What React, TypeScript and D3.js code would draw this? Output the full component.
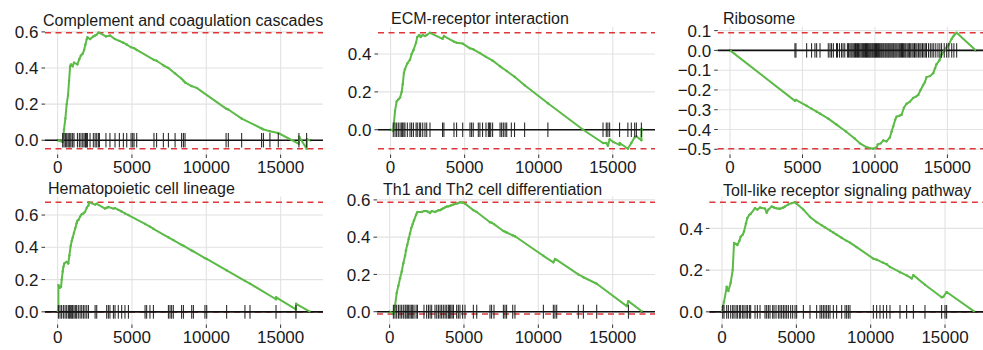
import React from "react";
import * as d3 from "d3";

const TOTAL_GENES = 17000;
const xTickValues = [0, 5000, 10000, 15000];

// Complement and coagulation cascades
const complementCurve: [number, number][] = [
  [0, 0], [340, -0.01], [430, 0.06], [520, 0.12], [610, 0.2], [700, 0.25], [770, 0.33], [840, 0.41],
  [900, 0.42], [1010, 0.41], [1100, 0.43], [1330, 0.42], [1460, 0.45], [1570, 0.47], [1690, 0.48],
  [1780, 0.5], [1870, 0.53], [1960, 0.56], [2000, 0.57], [2180, 0.56], [2400, 0.575], [2520, 0.58],
  [2630, 0.585], [2740, 0.595], [2810, 0.595], [3250, 0.575], [3520, 0.58], [3860, 0.56], [4150, 0.55],
  [4420, 0.54], [4650, 0.53], [4940, 0.515], [5140, 0.51], [5320, 0.5], [6480, 0.445], [6660, 0.44],
  [7110, 0.415], [7450, 0.4], [7900, 0.37], [8340, 0.34], [8460, 0.33], [8570, 0.32], [9000, 0.3],
  [9350, 0.29], [11330, 0.175], [11480, 0.17], [12380, 0.12], [13720, 0.065], [13840, 0.06],
  [14280, 0.05], [14840, 0.04], [16230, -0.02], [16240, 0.02], [16750, -0.047], [16760, 0.005], [17000, 0],
];
const complementHits = [
  340, 430, 520, 610, 700, 770, 830, 900, 1010, 1100, 1330, 1460, 1570, 1690, 1780, 1870, 1910, 1960,
  2000, 2180, 2400, 2520, 2630, 2740, 2810, 3250, 3520, 3860, 4150, 4420, 4650, 4940, 5050, 5140, 5320,
  6480, 6660, 7110, 7450, 7900, 8340, 8460, 8570, 11330, 11480, 12380, 13720, 13840, 14280, 14840,
  16230, 16750,
];

// ECM-receptor interaction
const ecmCurve: [number, number][] = [
  [0, 0], [180, -0.005], [300, 0.1], [410, 0.15], [520, 0.16], [640, 0.17], [750, 0.2], [820, 0.24],
  [900, 0.3], [970, 0.32], [1130, 0.35], [1310, 0.37], [1420, 0.4], [1540, 0.42], [1720, 0.46],
  [1800, 0.49], [1940, 0.5], [2030, 0.49], [2170, 0.5], [2320, 0.495], [2440, 0.5], [2660, 0.512],
  [3510, 0.48], [3600, 0.495], [4280, 0.465], [4460, 0.46], [4870, 0.455], [5360, 0.43], [5580, 0.425],
  [6030, 0.405], [6440, 0.385], [6890, 0.365], [7390, 0.335], [7840, 0.31], [8370, 0.28], [9050, 0.235],
  [10620, 0.14], [13000, 0.0], [14340, -0.07], [14560, -0.07], [14670, -0.085], [14790, -0.05],
  [15050, -0.065], [15460, -0.08], [15470, -0.07], [16020, -0.1], [16250, -0.07], [16480, -0.04],
  [16590, -0.035], [16930, -0.055], [16940, 0.005], [17000, 0],
];
const ecmHits = [
  180, 300, 410, 520, 640, 750, 815, 900, 970, 1130, 1310, 1420, 1540, 1720, 1800, 1940, 2030, 2170,
  2320, 2440, 2660, 3510, 3600, 4280, 4460, 4870, 5360, 5470, 5580, 5920, 6030, 6210, 6440, 6600, 6670,
  6760, 6890, 7390, 7500, 7610, 7730, 7840, 8150, 8370, 9050, 10620, 14340, 14560, 14670, 14790, 15460,
  16020, 16250, 16480, 16590, 16930,
];

// Ribosome
const ribosomeCurve: [number, number][] = [
  [0, 0], [4480, -0.255], [4550, -0.25], [5290, -0.28], [5630, -0.295], [5980, -0.31], [6210, -0.32],
  [6780, -0.345], [7350, -0.375], [8000, -0.41], [8600, -0.445], [8970, -0.47], [9430, -0.49],
  [9880, -0.497], [10120, -0.49], [10200, -0.475], [10400, -0.47], [10580, -0.455], [10800, -0.46],
  [11030, -0.44], [11150, -0.41], [11260, -0.385], [11400, -0.35], [11490, -0.335], [11700, -0.33],
  [11840, -0.325], [12000, -0.29], [12180, -0.27], [12400, -0.26], [12640, -0.24], [12800, -0.235],
  [12990, -0.225], [13150, -0.2], [13330, -0.175], [13450, -0.16], [13560, -0.135], [13800, -0.13],
  [14020, -0.115], [14150, -0.09], [14250, -0.07], [14450, -0.05], [14600, -0.02], [14800, 0.0],
  [14940, 0.015], [15100, 0.03], [15290, 0.058], [15400, 0.07], [15520, 0.082], [15640, 0.089], [16970, 0],
];
const ribosomeHits = [
  4480, 4550, 5290, 5630, 5860, 5980, 6210, 6780, 6900, 7010, 7130, 7350, 7420, 7560, 7700, 7800, 7920,
  8100, 8180, 8270, 8350, 8420, 8500, 8580, 8660, 8720, 8800, 8870, 8950, 9030, 9100, 9160, 9220, 9290,
  9350, 9420, 9480, 9540, 9600, 9660, 9720, 9790, 9850, 9920, 9980, 10040, 10110, 10170, 10240, 10300,
  10360, 10430, 10490, 10560, 10620, 10700, 10760, 10830, 10900, 10960, 11030, 11100, 11170, 11240,
  11300, 11380, 11450, 11520, 11600, 11680, 11750, 11830, 11900, 11980, 12060, 12130, 12220, 12300,
  12380, 12470, 12560, 12640, 12730, 12820, 12900, 13000, 13100, 13180, 13280, 13380, 13470, 13560,
  13700, 13820, 13940, 14060, 14200, 14350, 14480, 14600, 14780, 14950, 15100, 15300, 15450, 15640,
];

// Hematopoietic cell lineage
const hematoCurve: [number, number][] = [
  [0, 0], [50, 0.03], [55, 0.165], [160, 0.15], [230, 0.155], [275, 0.2], [340, 0.25], [390, 0.28],
  [450, 0.3], [610, 0.31], [720, 0.3], [790, 0.35], [880, 0.41], [950, 0.44], [1010, 0.46], [1100, 0.49],
  [1190, 0.52], [1280, 0.55], [1330, 0.565], [1400, 0.57], [1510, 0.59], [1620, 0.605], [1730, 0.61],
  [1840, 0.62], [1960, 0.645], [2070, 0.66], [2120, 0.679], [2520, 0.665], [2630, 0.67], [3190, 0.64],
  [3300, 0.645], [3410, 0.65], [3750, 0.64], [3860, 0.643], [4090, 0.632], [4310, 0.622], [4530, 0.61],
  [4760, 0.6], [5880, 0.545], [6210, 0.528], [6440, 0.515], [7450, 0.462], [7780, 0.445], [8340, 0.415],
  [8460, 0.41], [9020, 0.38], [9130, 0.375], [9910, 0.333], [10030, 0.328], [11370, 0.257], [12600, 0.192],
  [12940, 0.175], [14690, 0.078], [14700, 0.09], [16030, 0.015], [16040, 0.05], [17000, 0],
];
const hematoHits = [
  50, 160, 270, 385, 500, 610, 720, 790, 880, 950, 1010, 1100, 1190, 1280, 1390, 1510, 1620, 1730, 1840,
  1960, 2070, 2520, 2630, 3300, 3410, 3520, 3750, 3860, 4080, 4310, 4530, 4760, 5880, 5990, 6210, 6440,
  7450, 7560, 7670, 7780, 8340, 8460, 9020, 9130, 9910, 10030, 11370, 12600, 12940, 14690, 16030,
];

// Th1 and Th2 cell differentiation
const thCurve: [number, number][] = [
  [0, 0], [250, -0.012], [360, 0.03], [475, 0.1], [590, 0.14], [700, 0.18], [810, 0.215], [920, 0.26],
  [1040, 0.3], [1100, 0.33], [1190, 0.36], [1280, 0.39], [1370, 0.42], [1460, 0.45], [1550, 0.47],
  [1640, 0.49], [1780, 0.52], [1870, 0.535], [2160, 0.535], [2310, 0.54], [2490, 0.54], [2610, 0.535],
  [2720, 0.53], [2830, 0.54], [3050, 0.535], [3170, 0.54], [3280, 0.545], [3390, 0.545], [3500, 0.55],
  [3610, 0.555], [3730, 0.56], [3840, 0.565], [3950, 0.565], [4110, 0.57], [4290, 0.575], [4510, 0.58],
  [4620, 0.583], [4730, 0.587], [4910, 0.585], [5070, 0.58], [5630, 0.545], [5860, 0.535], [6750, 0.48],
  [6860, 0.478], [7020, 0.47], [7650, 0.433], [7760, 0.43], [7870, 0.425], [8280, 0.41], [8430, 0.405],
  [10340, 0.3], [11010, 0.265], [11120, 0.283], [11240, 0.278], [12690, 0.2], [13030, 0.185],
  [13930, 0.15], [15950, 0.03], [16060, 0.057], [17000, 0],
];
const thHits = [
  250, 360, 475, 590, 700, 810, 920, 1040, 1100, 1190, 1280, 1370, 1460, 1550, 1640, 1780, 1870, 2310,
  2490, 2610, 2720, 2830, 3050, 3170, 3280, 3390, 3500, 3610, 3730, 3840, 3950, 4020, 4110, 4200, 4290,
  4510, 4620, 4730, 4910, 5070, 5630, 5860, 6750, 6860, 7020, 7650, 7760, 7870, 8280, 8430, 10340,
  11010, 11120, 11240, 12690, 13030, 13930, 16060,
];

// Toll-like receptor signaling pathway
const tollCurve: [number, number][] = [
  [0, 0], [45, 0.024], [134, 0.048], [314, 0.12], [426, 0.1], [583, 0.14], [717, 0.2], [807, 0.33],
  [941, 0.325], [1031, 0.32], [1166, 0.34], [1255, 0.36], [1390, 0.37], [1479, 0.385], [1614, 0.425],
  [1704, 0.45], [1838, 0.465], [1928, 0.47], [2219, 0.497], [2376, 0.49], [2555, 0.5], [2892, 0.495],
  [3004, 0.475], [3116, 0.49], [3340, 0.505], [3497, 0.5], [3631, 0.497], [3788, 0.495], [3900, 0.494],
  [4125, 0.5], [4237, 0.505], [4461, 0.515], [4685, 0.521], [4909, 0.525], [5021, 0.518], [5470, 0.49],
  [5918, 0.455], [6366, 0.43], [6703, 0.415], [6927, 0.405], [7263, 0.39], [7487, 0.38], [7711, 0.37],
  [8048, 0.355], [8384, 0.34], [8608, 0.332], [9058, 0.31], [10177, 0.255], [10401, 0.25], [10849, 0.235],
  [11074, 0.228], [11298, 0.215], [11970, 0.19], [12419, 0.175], [12757, 0.16], [12869, 0.176],
  [13652, 0.13], [14773, 0.07], [14884, 0.072], [15109, 0.095], [17000, 0],
];
const tollHits = [
  45, 134, 314, 426, 583, 717, 807, 941, 1031, 1166, 1255, 1390, 1479, 1614, 1704, 1838, 1928, 2219,
  2376, 2555, 2892, 3004, 3116, 3228, 3407, 3497, 3631, 3788, 3900, 4012, 4125, 4237, 4349, 4461, 4618,
  4752, 4909, 5021, 5470, 5918, 6366, 6591, 6703, 6815, 6927, 7039, 7151, 7263, 7487, 7711, 8048, 8272,
  8384, 8496, 8608, 10177, 10401, 10625, 10849, 11074, 11298, 11970, 12419, 12869, 13652, 14773, 14997,
  15109,
];

const ticksA = [0, 0.2, 0.4, 0.6];
const ticksB = [0, 0.2, 0.4];
const ticksRibo = [-0.5, -0.4, -0.3, -0.2, -0.1, 0, 0.1];

const panels = [
  { title: "Complement and coagulation cascades", curve: complementCurve, hits: complementHits, yTicks: ticksA },
  { title: "ECM-receptor interaction", curve: ecmCurve, hits: ecmHits, yTicks: ticksB },
  { title: "Ribosome", curve: ribosomeCurve, hits: ribosomeHits, yTicks: ticksRibo },
  { title: "Hematopoietic cell lineage", curve: hematoCurve, hits: hematoHits, yTicks: ticksA },
  { title: "Th1 and Th2 cell differentiation", curve: thCurve, hits: thHits, yTicks: ticksA },
  { title: "Toll-like receptor signaling pathway", curve: tollCurve, hits: tollHits, yTicks: ticksB },
];

// panel boxes (px) and title anchors
const boxes = [
  { left: 45, top: 27, width: 278, height: 127.5, tx: 43, ty: 26 },
  { left: 378, top: 27, width: 277, height: 127.5, tx: 391, ty: 24 },
  { left: 717.7, top: 27, width: 271, height: 127.5, tx: 723, ty: 24 },
  { left: 45, top: 196.5, width: 278, height: 128, tx: 48, ty: 194 },
  { left: 377, top: 196.5, width: 278, height: 128, tx: 383, ty: 195 },
  { left: 709.4, top: 196.5, width: 278, height: 128, tx: 723, ty: 195.5 },
];

const FONT = "'Liberation Sans', Arial, Helvetica, sans-serif";
const GREEN = "#5cbb47";
const RED = "#e0363a";
const GRID = "#e2e2e2";

function Panel({ panel, box }) {
  const { curve, hits, yTicks, title } = panel;
  const esMax = d3.max(curve, (d) => d[1]);
  const esMin = d3.min(curve, (d) => d[1]);
  const diff = (esMax - esMin) / 8;
  const lo = Math.min(esMin, -diff / 2);
  const hi = Math.max(esMax, diff / 2);
  const yPad = (hi - lo) * 0.05;
  const xPad = TOTAL_GENES * 0.05;

  const x = d3.scaleLinear().domain([-xPad, TOTAL_GENES + xPad]).range([box.left, box.left + box.width]);
  const y = d3.scaleLinear().domain([lo - yPad, hi + yPad]).range([box.top + box.height, box.top]);
  const line = d3.line().x((d) => x(d[0])).y((d) => y(d[1]));
  const fmt = d3.format(".1f");
  const x0 = box.left;
  const x1 = box.left + box.width;
  const yb = box.top + box.height;

  return (
    <g>
      {/* grid */}
      {yTicks.map((t) => (
        <line key={"gy" + t} x1={x0} x2={x1} y1={y(t)} y2={y(t)} stroke={GRID} strokeWidth={1.1} />
      ))}
      {xTickValues.map((t) => (
        <line key={"gx" + t} x1={x(t)} x2={x(t)} y1={box.top} y2={yb} stroke={GRID} strokeWidth={1.1} />
      ))}

      {/* green points */}
      {curve.map((d, i) => (
        <circle key={"p" + i} cx={x(d[0])} cy={y(d[1])} r={1.2} fill={GREEN} />
      ))}

      <line x1={x0} x2={x1} y1={y(esMax)} y2={y(esMax)} stroke={RED} strokeWidth={1.6} strokeDasharray="6,4.5" />
      <line x1={x0} x2={x1} y1={y(esMin)} y2={y(esMin)} stroke={RED} strokeWidth={1.6} strokeDasharray="6,4.5" />
      <line x1={x0} x2={x1} y1={y(0)} y2={y(0)} stroke="#111" strokeWidth={1.6} />

      <path d={line(curve)} fill="none" stroke={GREEN} strokeWidth={2} strokeLinejoin="round" />

      {/* rug of pathway genes */}
      {hits.map((h, i) => (
        <line key={"h" + i} x1={x(h)} x2={x(h)} y1={y(-diff / 2)} y2={y(diff / 2)} stroke="#1a1a1a" strokeWidth={1} />
      ))}

      {/* y axis */}
      {yTicks.map((t) => (
        <g key={"ty" + t}>
          <line x1={x0 - 3.5} x2={x0} y1={y(t)} y2={y(t)} stroke="#333" strokeWidth={1} />
          <text x={x0 - 6.5} y={y(t)} dy="0.36em" textAnchor="end" fontSize={17} fill="#1a1a1a" fontFamily={FONT}>
            {fmt(t)}
          </text>
        </g>
      ))}

      {/* x axis */}
      {xTickValues.map((t) => (
        <g key={"tx" + t}>
          <line x1={x(t)} x2={x(t)} y1={yb} y2={yb + 3.5} stroke="#333" strokeWidth={1} />
          <text x={x(t)} y={yb + 18} textAnchor="middle" fontSize={17} fill="#1a1a1a" fontFamily={FONT}>
            {t}
          </text>
        </g>
      ))}

      <text x={box.tx} y={box.ty} fontSize={16} fill="#1a1a1a" fontFamily={FONT}>
        {title}
      </text>
    </g>
  );
}

export default function App() {
  return (
    <svg
      width={983}
      height={350}
      style={{ position: "absolute", left: 0, top: 0, background: "#fff" }}
    >
      <rect width={983} height={350} fill="#fff" />
      {panels.map((p, i) => (
        <Panel key={p.title} panel={p} box={boxes[i]} />
      ))}
    </svg>
  );
}
